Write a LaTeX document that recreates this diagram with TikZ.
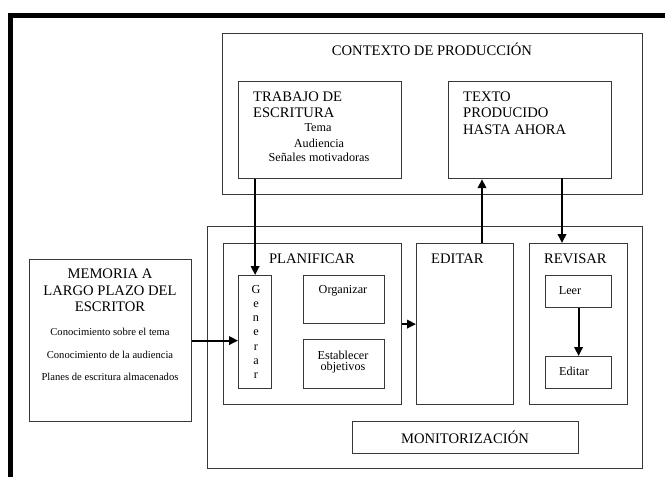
\documentclass[tikz,border=0pt]{standalone}
\usepackage{fontspec}
\setmainfont{Liberation Serif}
\usetikzlibrary{arrows.meta,calc}
\begin{document}
\begin{tikzpicture}[x=1pt,y=-1pt,
  box/.style={draw=black!78, line width=1.2pt, anchor=north west, inner sep=0pt, fill=white},
  arr/.style={line width=1.9pt, -{Triangle[length=9pt,width=8.5pt]}},
  big/.style={font=\fontsize{14.6}{16}\selectfont, inner sep=0pt},
  mid/.style={font=\fontsize{12.2}{14}\selectfont, inner sep=0pt},
  sml/.style={font=\fontsize{10.6}{12}\selectfont, inner sep=0pt},
  lft/.style={anchor=west}
]
\useasboundingbox (0,0) rectangle (665,477);
\fill[white] (0,0) rectangle (665,477);
% frame
\draw[line width=5.5pt, line join=miter] (10.5,477) -- (10.5,15.5) -- (665,15.5);

% boxes
\node[box, minimum width=420, minimum height=161] (ctx) at (222,33) {};
\node[box, minimum width=163, minimum height=97] (trab) at (238,81) {};
\node[box, minimum width=163, minimum height=97] (texto) at (448,81) {};
\node[box, minimum width=435, minimum height=242] (proc) at (207,226) {};
\node[box, minimum width=178, minimum height=161] (plan) at (223,243) {};
\node[box, minimum width=33, minimum height=113] (gen) at (238,275) {};
\node[box, minimum width=81, minimum height=48] (org) at (303,275) {};
\node[box, minimum width=81, minimum height=49] (est) at (303,339) {};
\node[box, minimum width=97, minimum height=161] (edit) at (416,243) {};
\node[box, minimum width=98, minimum height=161] (rev) at (529,243) {};
\node[box, minimum width=66, minimum height=32] (leer) at (545,275) {};
\node[box, minimum width=66, minimum height=32] (edit2) at (545,356) {};
\node[box, minimum width=226, minimum height=32] (mon) at (352,421) {};
\node[box, minimum width=162, minimum height=162] (mem) at (29,259) {};

% texts
\node[big] (tctx) at (432,49) {CONTEXTO DE PRODUCCIÓN};
\node[big,lft] (tt1) at (253,97) {TRABAJO DE};
\node[big,lft] (tt2) at (253,113) {ESCRITURA};
\node[mid] (tt3) at (318,128) {Tema};
\node[mid] (tt4) at (319,143) {Audiencia};
\node[mid] (tt5) at (319,157) {Señales motivadoras};
\node[big,lft] (tx1) at (463,97) {TEXTO};
\node[big,lft] (tx2) at (463,113) {PRODUCIDO};
\node[big,lft] (tx3) at (463,130) {HASTA AHORA};

\node[big] (tplan) at (312,259) {PLANIFICAR};
\node[mid] (g1) at (256,290) {G};
\node[mid] (g2) at (256,304.5) {e};
\node[mid] (g3) at (256,319) {n};
\node[mid] (g4) at (256,333) {e};
\node[mid] (g5) at (256,347.5) {r};
\node[mid] (g6) at (256,362) {a};
\node[mid] (g7) at (256,376) {r};
\node[mid] (torg) at (343,291) {Organizar};
\node[mid] (test1) at (343,355) {Establecer};
\node[mid] (test2) at (343,368) {objetivos};
\node[big,lft] (tedit) at (431,259) {EDITAR};
\node[big,lft] (trev) at (544,259) {REVISAR};
\node[mid] (tleer) at (570,291) {Leer};
\node[mid] (tedit2) at (574,371) {Editar};
\node[big] (tmon) at (465,437) {MONITORIZACIÓN};

\node[big] (m1) at (110,274) {MEMORIA A};
\node[big] (m2) at (110,291) {LARGO PLAZO DEL};
\node[big] (m3) at (110,307) {ESCRITOR};
\node[sml] (m4) at (110,332) {Conocimiento sobre el tema};
\node[sml] (m5) at (110,355) {Conocimiento de la audiencia};
\node[sml] (m6) at (110,377) {Planes de escritura almacenados};

% connectors
\coordinate (e2t) at (482,243);
\coordinate (t2r) at (562,178);
\draw[arr] (gen.north |- trab.south) -- (gen.north);
\draw[arr] (e2t) -- (e2t |- texto.south);
\draw[arr] (t2r) -- (t2r |- rev.north);
\draw[arr] (mem.east) -- (mem.east -| gen.west);
\draw[arr] (plan.east) -- (plan.east -| edit.west);
\draw[arr] (leer.south) -- (edit2.north);
\end{tikzpicture}
\end{document}
